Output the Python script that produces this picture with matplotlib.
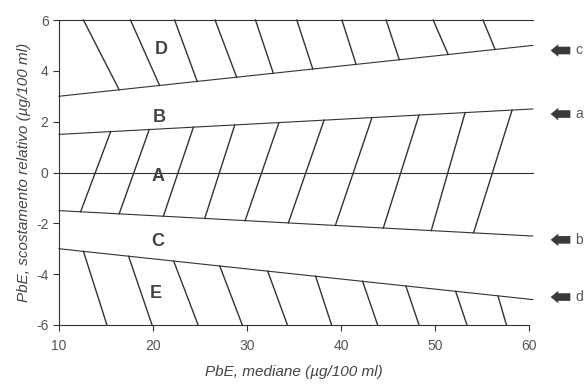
import matplotlib
matplotlib.use("Agg")
import matplotlib.pyplot as plt
import numpy as np

plt.rcParams['font.family'] = ['Liberation Sans', 'DejaVu Sans']

# boundary lines (x from 10 to ~60.5)
line_x = [10, 60.4]
top_line = [6, 6]
line_c = [3.0, 5.0]
line_a = [1.5, 2.5]
mid_line = [0, 0]
line_b = [-1.5, -2.5]
line_d = [-3.0, -5.0]
bottom_line = [-6, -6]

# hatch strokes: x where each stroke meets upper and lower boundary
hatch_D_top = [12.6, 17.6, 22.3, 26.6, 30.9, 35.3, 40.1, 44.8, 49.8, 55.1]
hatch_D_bot = [16.4, 20.7, 24.7, 28.9, 32.8, 37.0, 41.6, 46.2, 51.4, 56.4]
hatch_A_top = [15.5, 19.6, 24.3, 28.7, 33.4, 38.2, 43.3, 48.3, 53.2, 58.2]
hatch_A_bot = [12.3, 16.4, 21.1, 25.5, 29.8, 34.4, 39.4, 44.5, 49.6, 54.1]
hatch_E_top = [12.6, 17.4, 22.2, 27.1, 32.2, 37.3, 42.3, 46.9, 52.2, 56.7]
hatch_E_bot = [15.1, 19.9, 24.8, 29.5, 34.3, 39.0, 43.9, 48.3, 53.4, 57.6]

regions = ['D', 'B', 'A', 'C', 'E']
region_x = [20.9, 20.7, 20.5, 20.5, 20.3]
region_y = [4.85, 2.15, -0.15, -2.7, -4.75]

arrow_labels = ['c', 'a', 'b', 'd']
arrow_y = [4.8, 2.3, -2.65, -4.9]

xticks = [10, 20, 30, 40, 50, 60]
yticks = [-6, -4, -2, 0, 2, 4, 6]

lc = '#333333'
tc = '#555555'

fig = plt.figure(figsize=(5.86, 3.87), dpi=100)
ax = fig.add_axes([59/586, 1 - 325/387, 470/586, 305/387])

for yy in [top_line, line_c, line_a, mid_line, line_b, line_d]:
    ax.plot(line_x, yy, color=lc, lw=0.8, clip_on=False)

def hatch(tops, bots, upper, lower):
    for xt, xb in zip(tops, bots):
        yt = np.interp(xt, line_x, upper)
        yb = np.interp(xb, line_x, lower)
        ax.plot([xt, xb], [yt, yb], color=lc, lw=1.0, clip_on=False)

hatch(hatch_D_top, hatch_D_bot, top_line, line_c)
hatch(hatch_A_top, hatch_A_bot, line_a, line_b)
hatch(hatch_E_top, hatch_E_bot, line_d, bottom_line)

for lab, xx, yy in zip(regions, region_x, region_y):
    ax.text(xx, yy, lab, fontsize=13, fontweight='bold', color='#444444',
            ha='center', va='center')

for lab, yy in zip(arrow_labels, arrow_y):
    ax.annotate('', xy=(62.3, yy), xytext=(64.4, yy), annotation_clip=False,
                arrowprops=dict(arrowstyle='simple,head_length=0.55,head_width=0.9,tail_width=0.55',
                                color='#3a3a3a', lw=0, shrinkA=0, shrinkB=0))
    ax.text(65.3, yy, lab, fontsize=10, color=tc, ha='center', va='center',
            clip_on=False)

ax.set_xlim(10, 60)
ax.set_ylim(-6, 6)
ax.set_xticks(xticks)
ax.set_yticks(yticks)
ax.set_yticklabels([str(v) for v in yticks])
ax.spines['top'].set_visible(False)
ax.spines['right'].set_visible(False)
for s in ['left', 'bottom']:
    ax.spines[s].set_color(lc)
    ax.spines[s].set_linewidth(0.8)
ax.tick_params(direction='out', length=4, width=0.8, colors=lc,
               labelcolor=tc, labelsize=10)
ax.tick_params(axis='x', pad=6)
ax.set_xlabel('PbE, mediane (µg/100 ml)', fontsize=11, style='italic',
              color='#444444', labelpad=9)
ax.set_ylabel('PbE, scostamento relativo (µg/100 ml)', fontsize=11,
              style='italic', color='#444444', labelpad=4)

fig.savefig('out.png', dpi=100)
